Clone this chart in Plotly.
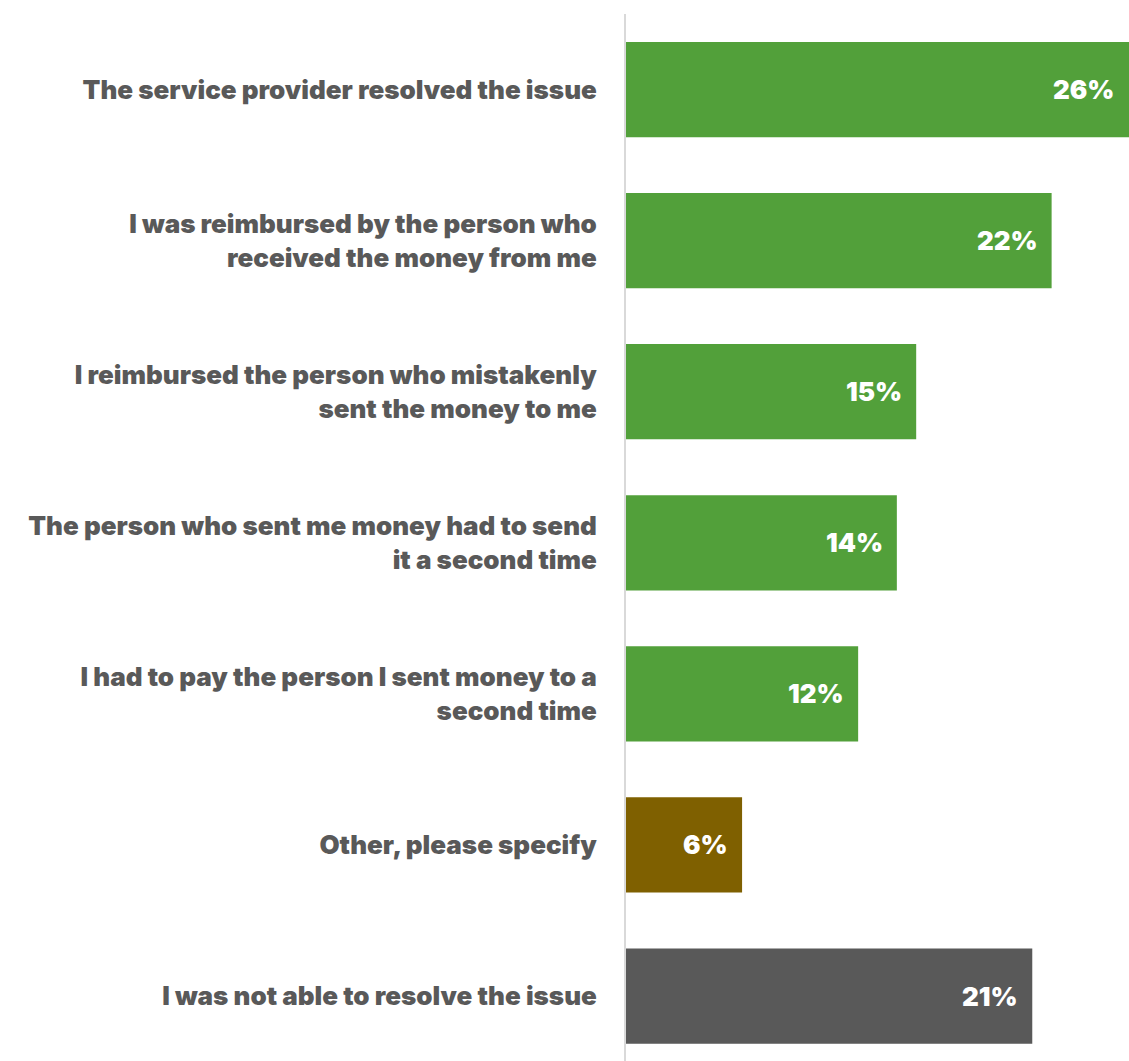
import plotly.graph_objects as go

# Survey responses: how the mistaken transfer was resolved
categories = [
    "The service provider resolved the issue",
    "I was reimbursed by the person who<br>received the money from me",
    "I reimbursed the person who mistakenly<br>sent the money to me",
    "The person who sent me money had to send<br>it a second time",
    "I had to pay the person I sent money to a<br>second time",
    "Other, please specify",
    "I was not able to resolve the issue",
]
shares = [26, 22, 15, 14, 12, 6, 21]
bar_colors = ["#52A03A", "#52A03A", "#52A03A", "#52A03A", "#52A03A", "#7F6000", "#595959"]

FONT = "Inter"
fig = go.Figure(
    go.Bar(
        y=categories,
        x=shares,
        orientation="h",
        width=0.63,
        marker=dict(color=bar_colors, line=dict(width=0)),
        hoverinfo="skip",
    )
)

# value labels just inside the end of each bar
for cat, val in zip(categories, shares):
    fig.add_annotation(
        x=val, y=cat, text=f"{val}%", showarrow=False,
        xanchor="right", yanchor="middle", xshift=-12,
        font=dict(family=FONT, size=26, color="white", weight=900),
    )

fig.update_layout(
    width=1129, height=1061,
    margin=dict(l=626, r=0, t=14, b=0),
    paper_bgcolor="white", plot_bgcolor="white",
    showlegend=False,
    xaxis=dict(range=[0, 26], visible=False, fixedrange=True),
    yaxis=dict(
        range=[6.43, -0.5],
        showline=True, linecolor="#D9D9D9", linewidth=2,
        showgrid=False, zeroline=False, ticks="",
        ticklabelstandoff=22,
        tickfont=dict(family=FONT, size=26, color="#595959", weight=900),
    ),
)

fig.write_html("out.html")
